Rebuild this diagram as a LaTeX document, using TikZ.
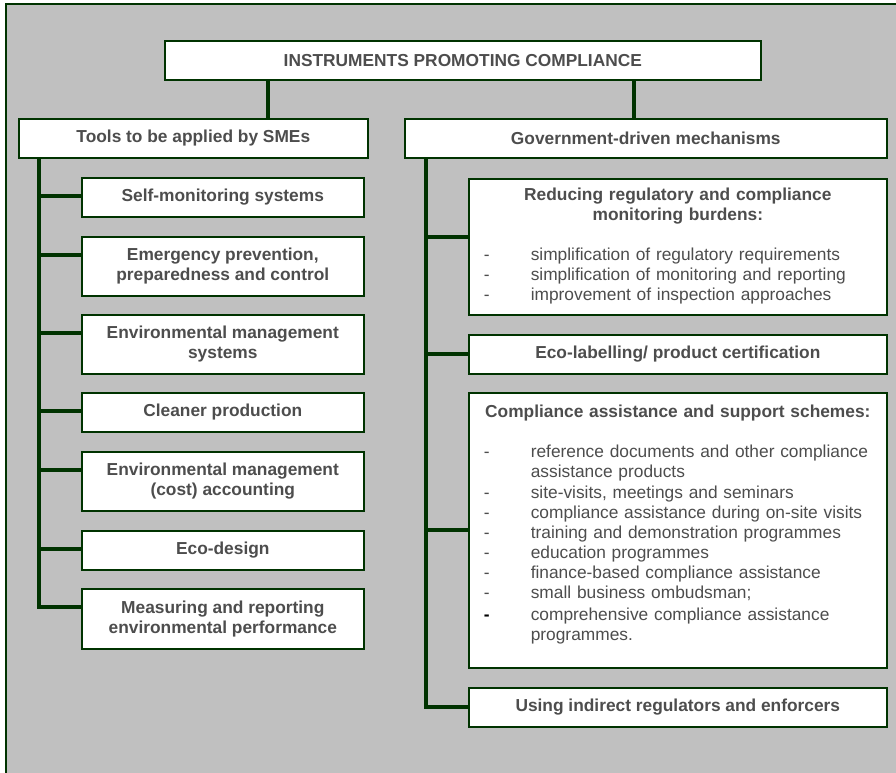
\documentclass[tikz,border=0pt]{standalone}
\usepackage{fontspec}
\setmainfont{Liberation Sans}

\def\pxu{0.75pt}

\begin{document}
\begin{tikzpicture}[x=0.75pt, y=-0.75pt]
    \definecolor{frameGreen}{HTML}{003300}
    \definecolor{backGrey}{HTML}{C0C0C0}
    \definecolor{textGrey}{HTML}{4D4D4D}

    \tikzset{
        box/.style={draw=frameGreen, line width=1.2pt, fill=white, text=textGrey,
            font=\bfseries\fontsize{13pt}{15pt}\selectfont, align=center,
            inner sep=0pt, anchor=north west},
        listbox/.style={box, inner xsep=11.25pt, text width=291pt},
        link/.style={draw=frameGreen, line width=3pt},
    }

    % Page and grey frame
    \useasboundingbox (0,0) rectangle (896,773);
    \fill[backGrey] (6,4) rectangle (910,790);
    \draw[frameGreen, line width=1.5pt] (6,790) -- (6,4) -- (910,4);

    % Trunk positions
    \coordinate (lsplit) at (268,0);
    \coordinate (rsplit) at (634,0);
    \coordinate (ltrunk) at (39,0);
    \coordinate (rtrunk) at (426,0);

    % Top and the two headers
    \node[box, minimum width=596*\pxu, minimum height=39*\pxu] (title) at (164,40) {INSTRUMENTS PROMOTING COMPLIANCE};
    \node[box, minimum width=349*\pxu, minimum height=39*\pxu] (tools) at (18,118) {Tools to be applied by SMEs};
    \node[box, minimum width=482*\pxu, minimum height=39*\pxu] (gov) at (404,118) {Government-driven mechanisms};

    \draw[link] (title.south -| lsplit) -- (tools.north -| lsplit);
    \draw[link] (title.south -| rsplit) -- (gov.north -| rsplit);

    % Left column: tools for SMEs
    \foreach \boxname/\ytop/\hgt/\txt in {
        selfmon/177/39/{Self-monitoring systems},
        emerg/236/59/{Emergency prevention,\\preparedness and control},
        ems/314/59/{Environmental management\\systems},
        cleaner/392/39/{Cleaner production},
        emacc/451/59/{Environmental management\\(cost) accounting},
        ecodes/530/39/{Eco-design},
        mrep/588/60/{Measuring and reporting\\environmental performance}} {
        \node[box, minimum width=282*\pxu, minimum height=\hgt*\pxu] (\boxname) at (81,\ytop) {\txt};
        \path ([yshift=-14.5pt]\boxname.north west) coordinate (\boxname-stub);
        \draw[link] (\boxname-stub) -- (\boxname-stub -| ltrunk);
    }
    \draw[link] (tools.south -| ltrunk) |- (mrep-stub);

    % Right column: government-driven mechanisms
    \node[listbox, minimum width=418*\pxu, minimum height=136*\pxu] (reduce) at (468,178) {%
        Reducing regulatory and compliance\\monitoring burdens:\\[15pt]
        {\mdseries\begin{tabular}[t]{@{}p{35.25pt}@{}p{255.75pt}@{}}
        - & simplification of regulatory requirements\\
        - & simplification of monitoring and reporting\\
        - & improvement of inspection approaches
        \end{tabular}}};
    \node[box, minimum width=418*\pxu, minimum height=39*\pxu] (ecolab) at (468,334) {Eco-labelling/ product certification};
    \node[listbox, minimum width=418*\pxu, minimum height=275*\pxu] (assist) at (468,392) {%
        Compliance assistance and support schemes:\\[15pt]
        {\mdseries\begin{tabular}[t]{@{}p{35.25pt}@{}p{255.75pt}@{}}
        - & reference documents and other compliance\\
          & assistance products\\[0.75pt]
        - & site-visits, meetings and seminars\\
        - & compliance assistance during on-site visits\\
        - & training and demonstration programmes\\
        - & education programmes\\
        - & finance-based compliance assistance\\
        - & small business ombudsman;\\[1.5pt]
        \textcolor{black}{\bfseries -} & comprehensive compliance assistance\\
          & programmes.\\[7.5pt]
        \end{tabular}}};
    \node[box, minimum width=418*\pxu, minimum height=39*\pxu] (indirect) at (468,687) {Using indirect regulators and enforcers};

    \path ([yshift=-44.25pt]reduce.north west) coordinate (reduce-stub);
    \draw[link] (reduce-stub) -- (reduce-stub -| rtrunk);
    \draw[link] (ecolab.west) -- (ecolab.west -| rtrunk);
    \draw[link] (assist.west) -- (assist.west -| rtrunk);
    \draw[link] (gov.south -| rtrunk) |- (indirect.west);

\end{tikzpicture}
\end{document}
